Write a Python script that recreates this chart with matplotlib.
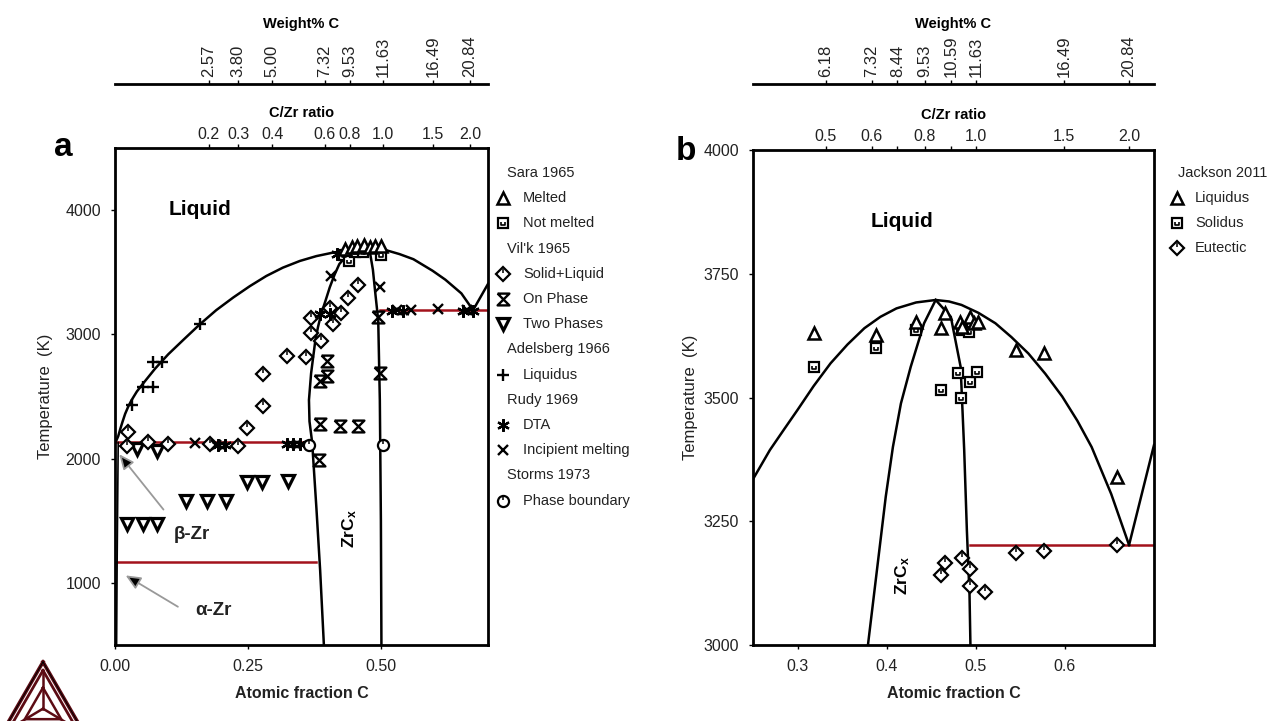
import numpy as np
import matplotlib
matplotlib.use("Agg")
import matplotlib.pyplot as plt
from matplotlib.path import Path

plt.rcParams['font.family'] = ['Liberation Sans', 'DejaVu Sans']
plt.rcParams['mathtext.fontset'] = 'custom'
plt.rcParams['mathtext.rm'] = 'Liberation Sans'
plt.rcParams['mathtext.bf'] = 'Liberation Sans:bold'
plt.rcParams['mathtext.it'] = 'Liberation Sans:italic'

# ======================= PANEL A DATA =======================
# phase-boundary curves (atomic fraction C, temperature K)
liqL_a_x = [0.0, 0.003, 0.006, 0.010, 0.014, 0.019, 0.025, 0.031, 0.041, 0.053, 0.075, 0.10, 0.13,
            0.159, 0.19, 0.222, 0.253, 0.284, 0.315, 0.347, 0.378, 0.409, 0.44, 0.466]
liqL_a_T = [2128, 2150, 2180, 2240, 2295, 2360, 2420, 2470, 2540, 2606, 2723, 2840, 2963,
            3080, 3195, 3297, 3388, 3470, 3537, 3591, 3630, 3658, 3677, 3688]
liqR_a_x = [0.466, 0.49, 0.51, 0.534, 0.56, 0.596, 0.62, 0.65, 0.672]
liqR_a_T = [3688, 3686, 3676, 3646, 3605, 3512, 3440, 3330, 3195]
graph_a_x = [0.672, 0.70]
graph_a_T = [3195, 3406]
zrcL_a_x = [0.466, 0.456, 0.446, 0.434, 0.421, 0.412, 0.403, 0.395, 0.387, 0.381, 0.376, 0.372,
            0.368, 0.364, 0.365, 0.37, 0.378, 0.385, 0.392]
zrcL_a_T = [3688, 3685, 3672, 3630, 3566, 3480, 3378, 3270, 3166, 3060, 2952, 2820,
            2686, 2472, 2300, 2130, 1600, 1100, 500]
zrcR_a_x = [0.466, 0.478, 0.484, 0.488, 0.494, 0.497, 0.499, 0.50]
zrcR_a_T = [3688, 3672, 3520, 3352, 3112, 2472, 1500, 500]
solv_a_x = [0.003, 0.004, 0.006]
solv_a_T = [500, 1165, 2130]
# invariant (red) lines: [x_start, x_end], T
inv_a = [([0.0, 0.365], 2130), ([0.004, 0.378], 1165), ([0.497, 0.70], 3195)]

# experimental points
melt_a_x = [0.432, 0.445, 0.455, 0.468, 0.478, 0.488, 0.50]
melt_a_T = [3690, 3705, 3715, 3720, 3705, 3715, 3715]
notmelt_a_x = [0.43, 0.44, 0.45, 0.465, 0.50]
notmelt_a_T = [3640, 3590, 3660, 3665, 3635]
solliq_a_x = [0.022, 0.025, 0.062, 0.10, 0.178, 0.231, 0.247, 0.278, 0.278, 0.322, 0.359,
              0.368, 0.368, 0.387, 0.403, 0.409, 0.424, 0.437, 0.456]
solliq_a_T = [2104, 2211, 2131, 2118, 2118, 2104, 2250, 2425, 2680, 2825, 2815,
              3010, 3130, 2945, 3210, 3080, 3170, 3290, 3395]
onph_a_x = [0.397, 0.397, 0.384, 0.493, 0.497, 0.384, 0.422, 0.456, 0.383]
onph_a_T = [2786, 2665, 2625, 3138, 2686, 2280, 2265, 2265, 1985]
twoph_a_x = [0.041, 0.078, 0.022, 0.053, 0.078, 0.134, 0.172, 0.209, 0.247, 0.275, 0.325]
twoph_a_T = [2078, 2064, 1474, 1474, 1474, 1661, 1661, 1661, 1809, 1809, 1823]
adel_a_x = [0.031, 0.053, 0.072, 0.072, 0.088, 0.159]
adel_a_T = [2435, 2573, 2573, 2775, 2775, 3084]
dta_a_x = [0.194, 0.206, 0.322, 0.334, 0.347, 0.384, 0.403, 0.416, 0.519, 0.541, 0.653, 0.672]
dta_a_T = [2112, 2112, 2120, 2120, 2120, 3166, 3166, 3646, 3192, 3192, 3192, 3192]
incip_a_x = [0.15, 0.19, 0.406, 0.497, 0.53, 0.555, 0.606, 0.66]
incip_a_T = [2126, 2112, 3470, 3380, 3195, 3195, 3205, 3195]
storms_a_x = [0.365, 0.503]
storms_a_T = [2112, 2112]

xticks_a = [0.0, 0.25, 0.50]
xticklabels_a = ['0.00', '0.25', '0.50']
yticks_a = [1000, 2000, 3000, 4000]
cz_pos_a = [0.176, 0.231, 0.295, 0.394, 0.441, 0.503, 0.597, 0.666]
cz_lab_a = ['0.2', '0.3', '0.4', '0.6', '0.8', '1.0', '1.5', '2.0']
wt_lab_a = ['2.57', '3.80', '5.00', '7.32', '9.53', '11.63', '16.49', '20.84']

# ======================= PANEL B DATA =======================
liq_b_x = [0.25, 0.269, 0.285, 0.30, 0.318, 0.337, 0.356, 0.375, 0.393, 0.411, 0.433, 0.455,
           0.47, 0.484, 0.503, 0.522, 0.54, 0.559, 0.578, 0.597, 0.614, 0.63, 0.652, 0.672]
liq_b_T = [3335, 3394, 3436, 3475, 3523, 3569, 3607, 3640, 3663, 3680, 3692, 3697,
           3694, 3687, 3671, 3650, 3622, 3589, 3548, 3502, 3453, 3400, 3305, 3202]
graph_b_x = [0.672, 0.70]
graph_b_T = [3202, 3404]
zrcL_b_x = [0.455, 0.442, 0.427, 0.416, 0.407, 0.399, 0.39, 0.379]
zrcL_b_T = [3697, 3650, 3562, 3488, 3400, 3300, 3165, 3000]
zrcR_b_x = [0.455, 0.472, 0.483, 0.487, 0.49, 0.493, 0.494]
zrcR_b_T = [3697, 3663, 3562, 3394, 3232, 3100, 3000]
inv_b = [([0.494, 0.70], 3202)]

liqpt_b_x = [0.319, 0.388, 0.433, 0.465, 0.461, 0.482, 0.494, 0.484, 0.498, 0.503, 0.545, 0.577, 0.659]
liqpt_b_T = [3630, 3626, 3653, 3670, 3640, 3653, 3663, 3643, 3650, 3653, 3596, 3589, 3340]
sol_b_x = [0.319, 0.388, 0.433, 0.461, 0.48, 0.483, 0.494, 0.501, 0.485, 0.492]
sol_b_T = [3562, 3599, 3636, 3515, 3549, 3498, 3532, 3552, 3636, 3633]
eut_b_x = [0.461, 0.465, 0.484, 0.493, 0.494, 0.51, 0.545, 0.577, 0.659]
eut_b_T = [3141, 3165, 3175, 3153, 3119, 3108, 3185, 3190, 3202]

xticks_b = [0.3, 0.4, 0.5, 0.6]
xticklabels_b = ['0.3', '0.4', '0.5', '0.6']
yticks_b = [3000, 3250, 3500, 3750, 4000]
cz_pos_b = [0.3315, 0.383, 0.412, 0.443, 0.472, 0.50, 0.599, 0.672]
cz_lab_b = ['0.5', '0.6', '', '0.8', '', '1.0', '1.5', '2.0']
wt_lab_b = ['6.18', '7.32', '8.44', '9.53', '10.59', '11.63', '16.49', '20.84']

# ======================= MARKERS =======================
TICK = Path([(0, 1.0), (0, 0.2)], [Path.MOVETO, Path.LINETO])
CUP = Path([(1, 1), (-0.3, 0.15), (-0.3, -0.4), (0.3, -0.4), (0.3, 0.15)],
           [Path.MOVETO, Path.MOVETO, Path.LINETO, Path.LINETO, Path.LINETO])
HOUR = Path([(-0.5, 0.5), (0.5, 0.5), (-0.5, -0.5), (0.5, -0.5), (-0.5, 0.5)],
            [Path.MOVETO] + [Path.LINETO] * 4)


def draw(ax, x, y, kind, z=6):
    kw = dict(ls='none', mec='black', zorder=z, clip_on=False)
    if kind == 'tri':
        ax.plot(x, y, marker='^', ms=8, mfc='white', mew=1.8, **kw)
    elif kind == 'sq':
        ax.plot(x, y, marker='s', ms=7.5, mfc='white', mew=1.6, **kw)
        ax.plot(x, y, marker=CUP, ms=7.5, mfc='none', mew=1.2, **kw)
    elif kind == 'dia':
        ax.plot(x, y, marker='D', ms=7.5, mfc='white', mew=1.6, **kw)
        ax.plot(x, y, marker=TICK, ms=7.5, mfc='none', mew=1.1, **kw)
    elif kind == 'hour':
        ax.plot(x, y, marker=HOUR, ms=8.5, mfc='none', mew=1.7, **kw)
    elif kind == 'vtri':
        ax.plot(x, y, marker='v', ms=8, mfc='white', mew=2.3, **kw)
    elif kind == 'plus':
        ax.plot(x, y, marker='+', ms=9, mew=1.7, **kw)
    elif kind == 'ast':
        ax.plot(x, y, marker=(6, 2, 0), ms=9, mew=1.6, **kw)
    elif kind == 'x':
        ax.plot(x, y, marker='x', ms=7, mew=1.7, **kw)
    elif kind == 'circ':
        ax.plot(x, y, marker='o', ms=8, mfc='white', mew=1.6, **kw)
        ax.plot(x, y, marker=TICK, ms=8, mfc='none', mew=1.1, **kw)


# ======================= FIGURE =======================
W, H = 1284, 721
fig = plt.figure(figsize=(W / 100, H / 100), dpi=100)


def box(l, t, r, b):
    return [l / W, 1 - b / H, (r - l) / W, (b - t) / H]


RED = '#a3121c'
LW = 1.8
TXT = '#222222'


def style_main(ax, xlim, ylim, xt, xtl, yt):
    ax.set_xlim(*xlim)
    ax.set_ylim(*ylim)
    ax.set_xticks(xt, xtl)
    ax.set_yticks(yt)
    for s in ax.spines.values():
        s.set_linewidth(2.0)
    ax.tick_params(direction='out', length=3, width=1, labelsize=11.5,
                   labelcolor=TXT, top=False, right=False)
    ax.tick_params(axis='x', pad=7)
    ax.tick_params(axis='y', pad=7)
    ax.set_xlabel('Atomic fraction C', fontsize=11.5, fontweight='bold', labelpad=9, color=TXT)


def top_axes(ax, cz_pos, cz_lab, wt_lab, wloc):
    t1 = ax.secondary_xaxis('top')
    t1.set_ticks(cz_pos, labels=cz_lab)
    t1.tick_params(direction='out', length=3, width=1, labelsize=11.5, pad=1.5, labelcolor=TXT)
    t1.set_xlabel('C/Zr ratio', fontsize=10.5, fontweight='bold', labelpad=7)
    t2 = ax.secondary_xaxis(wloc)
    t2.set_ticks(cz_pos, labels=wt_lab)
    t2.tick_params(direction='out', length=3, width=1, labelsize=12, pad=2,
                   labelrotation=90, labelcolor=TXT)
    for s in t2.spines.values():
        s.set_linewidth(2.0)
    t2.set_xlabel('Weight% C', fontsize=10.5, fontweight='bold', labelpad=5)


# ---------------- panel a ----------------
axa = fig.add_axes(box(115, 148, 488, 645))
style_main(axa, (0, 0.70), (500, 4500), xticks_a, xticklabels_a, yticks_a)
axa.set_ylabel('Temperature  (K)', fontsize=12, labelpad=9, color=TXT)
for xs, Ts in [(liqL_a_x, liqL_a_T), (liqR_a_x, liqR_a_T), (graph_a_x, graph_a_T),
               (zrcL_a_x, zrcL_a_T), (zrcR_a_x, zrcR_a_T)]:
    axa.plot(xs, Ts, color='black', lw=LW, zorder=3, solid_joinstyle='round')
axa.plot(solv_a_x, solv_a_T, color='black', lw=1.2, zorder=3)
for xr, T in inv_a:
    axa.plot(xr, [T, T], color=RED, lw=1.8, zorder=2)

draw(axa, twoph_a_x, twoph_a_T, 'vtri')
draw(axa, solliq_a_x, solliq_a_T, 'dia')
draw(axa, onph_a_x, onph_a_T, 'hour')
draw(axa, adel_a_x, adel_a_T, 'plus')
draw(axa, dta_a_x, dta_a_T, 'ast')
draw(axa, incip_a_x, incip_a_T, 'x')
draw(axa, storms_a_x, storms_a_T, 'circ')
draw(axa, notmelt_a_x, notmelt_a_T, 'sq')
draw(axa, melt_a_x, melt_a_T, 'tri')

axa.text(0.159, 4005, 'Liquid', fontsize=15, fontweight='bold', ha='center', va='center')
axa.text(0.144, 1390, 'β-Zr', fontsize=13.5, fontweight='bold', ha='center', va='center', color=TXT)
axa.text(0.184, 775, 'α-Zr', fontsize=13.5, fontweight='bold', ha='center', va='center', color=TXT)
axa.text(0.44, 1440, r'ZrC$_\mathbf{x}$', fontsize=12.5, fontweight='bold', rotation=90,
         ha='center', va='center')
ap = dict(arrowstyle='-|>,head_length=0.9,head_width=0.4', ec='#999999', fc='black', lw=1.3,
          shrinkA=0, shrinkB=0, mutation_scale=10)
axa.annotate('', xy=(0.008, 2035), xytext=(0.091, 1590), arrowprops=ap)
axa.annotate('', xy=(0.020, 1060), xytext=(0.118, 808), arrowprops=ap)
top_axes(axa, cz_pos_a, cz_lab_a, wt_lab_a, (645 - 84) / 497)

# ---------------- panel b ----------------
axb = fig.add_axes(box(753, 150, 1154, 645))
style_main(axb, (0.25, 0.70), (3000, 4000), xticks_b, xticklabels_b, yticks_b)
axb.set_ylabel('Temperature  (K)', fontsize=12, labelpad=4, color=TXT)
for xs, Ts in [(liq_b_x, liq_b_T), (graph_b_x, graph_b_T), (zrcL_b_x, zrcL_b_T), (zrcR_b_x, zrcR_b_T)]:
    axb.plot(xs, Ts, color='black', lw=LW, zorder=3, solid_joinstyle='round')
for xr, T in inv_b:
    axb.plot(xr, [T, T], color=RED, lw=1.8, zorder=2)
draw(axb, eut_b_x, eut_b_T, 'dia')
draw(axb, sol_b_x, sol_b_T, 'sq')
draw(axb, liqpt_b_x, liqpt_b_T, 'tri')
axb.text(0.417, 3855, 'Liquid', fontsize=15, fontweight='bold', ha='center', va='center')
axb.text(0.418, 3140, r'ZrC$_\mathbf{x}$', fontsize=12.5, fontweight='bold', rotation=90,
         ha='center', va='center')
top_axes(axb, cz_pos_b, cz_lab_b, wt_lab_b, (645 - 84) / 495)

# ---------------- overlay: panel letters, legends, logo ----------------
lax = fig.add_axes([0, 0, 1, 1])
lax.set_xlim(0, W)
lax.set_ylim(H, 0)
lax.axis('off')
lax.text(63, 147, 'a', fontsize=24, fontweight='bold', ha='center', va='center')
lax.text(686, 151, 'b', fontsize=24, fontweight='bold', ha='center', va='center')

leg_a = [(None, 'Sara 1965'), ('tri', 'Melted'), ('sq', 'Not melted'),
         (None, "Vil'k 1965"), ('dia', 'Solid+Liquid'), ('hour', 'On Phase'), ('vtri', 'Two Phases'),
         (None, 'Adelsberg 1966'), ('plus', 'Liquidus'),
         (None, 'Rudy 1969'), ('ast', 'DTA'), ('x', 'Incipient melting'),
         (None, 'Storms 1973'), ('circ', 'Phase boundary')]
leg_b = [(None, 'Jackson 2011'), ('tri', 'Liquidus'), ('sq', 'Solidus'), ('dia', 'Eutectic')]


def legend_block(entries, xm, xt, xh, y0, dy):
    y = y0
    for kind, lab in entries:
        if kind is None:
            lax.text(xh, y, lab, fontsize=10.5, ha='left', va='center', color=TXT)
        else:
            draw(lax, [xm], [y], kind)
            lax.text(xt, y, lab, fontsize=10.5, ha='left', va='center', color=TXT)
        y += dy


legend_block(leg_a, 503, 523, 507, 173, 25.2)
legend_block(leg_b, 1177, 1195, 1178, 173, 25.0)

# Thermo-Calc style logo
cx, apex_y, hgt = 43, 662, 70
half = hgt / np.sqrt(3)
cen_y = apex_y + 2 * hgt / 3
for scale, col, lw in [(1.0, '#5c0b14', 2.6), (1.0, 'black', 0.7), (0.82, '#5c0b14', 2.0), (0.45, '#5c0b14', 1.8)]:
    vx = [cx, cx - half * scale, cx + half * scale, cx]
    vy = [cen_y - (cen_y - apex_y) * scale, cen_y + (apex_y + hgt - cen_y) * scale,
          cen_y + (apex_y + hgt - cen_y) * scale, cen_y - (cen_y - apex_y) * scale]
    lax.plot(vx, vy, color=col, lw=lw, solid_joinstyle='miter')
for sx, sy in [(cx, apex_y + 10), (cx - half * 0.8, apex_y + hgt - 4), (cx + half * 0.8, apex_y + hgt - 4)]:
    lax.plot([cx, sx], [cen_y, sy], color='#5c0b14', lw=1.8)

fig.savefig('out.png', dpi=100)
